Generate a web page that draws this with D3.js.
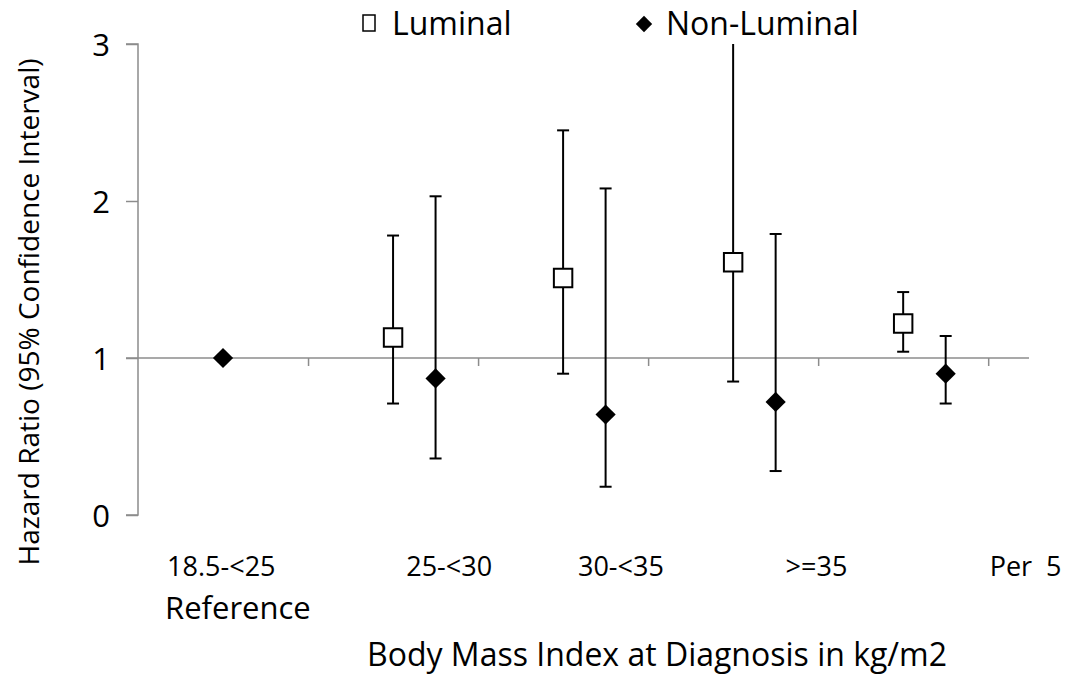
<!DOCTYPE html>
<html>
<head>
<meta charset="utf-8">
<script src="https://cdn.jsdelivr.net/npm/d3@7"></script>
<style>
  body { margin: 0; background: #fff; }
  text { font-family: "Open Sans", "Noto Sans", sans-serif; fill: #000; }
  .axis path, .axis line { stroke: #8c8c8c; stroke-width: 1.5; }
</style>
</head>
<body>
<svg width="1073" height="675"></svg>
<script>
// category labels and where they sit along the x axis (axis units)
var categories = ["18.5-<25", "25-<30", "30-<35", ">=35", "Per  5"];
var labelAt = [0.49, 1.83, 2.84, 3.99, 5.22];

// Luminal: x position, hazard ratio, lower and upper 95% CI
var lumX = [1.5, 2.5, 3.5, 4.5];
var lumHR = [1.13, 1.51, 1.61, 1.22];
var lumLo = [0.71, 0.90, 0.85, 1.04];
var lumHi = [1.78, 2.45, 3.10, 1.42];

// Non-Luminal (first one is the reference, no interval)
var nonX = [0.5, 1.75, 2.75, 3.75, 4.75];
var nonHR = [1.00, 0.87, 0.64, 0.72, 0.90];
var nonLo = [null, 0.36, 0.18, 0.28, 0.71];
var nonHi = [null, 2.03, 2.08, 1.79, 1.14];

var yTicks = [0, 1, 2, 3];

var svg = d3.select("svg");

var x = d3.scaleLinear().domain([0, 5.24]).range([138, 1029]);
var y = d3.scaleLinear().domain([0, 3]).range([515, 44]);

// y axis
svg.append("g")
    .attr("class", "axis")
    .attr("transform", "translate(" + x(0) + ",0)")
    .call(d3.axisLeft(y).tickValues(yTicks).tickFormat(d3.format("d")).tickSize(12).tickPadding(16))
    .call(function(g) { g.select(".domain").attr("d", "M-12," + y(3) + "H0V" + y(0) + "H-12"); })
    .selectAll("text")
      .style("font-size", "31px")
      .attr("dy", "0.36em");

// x axis crossing at hazard ratio 1
svg.append("g")
    .attr("class", "axis")
    .attr("transform", "translate(0," + y(1) + ")")
    .call(d3.axisBottom(x).tickValues([1, 2, 3, 4, 5]).tickFormat("").tickSize(8))
    .call(function(g) { g.select(".domain").attr("d", "M" + (x(0) - 12) + ",0H" + x(5.24)); });

// category labels
svg.append("g").selectAll("text")
  .data(categories)
  .enter().append("text")
    .attr("x", function(d, i) { return x(labelAt[i]); })
    .attr("y", 576)
    .attr("text-anchor", "middle")
    .style("font-size", "27px")
    .style("white-space", "pre")
    .text(function(d) { return d; });

svg.append("text")
    .attr("x", 165)
    .attr("y", 619)
    .style("font-size", "31px")
    .text("Reference");

svg.append("text")
    .attr("x", 657)
    .attr("y", 666)
    .attr("text-anchor", "middle")
    .style("font-size", "32px")
    .text("Body Mass Index at Diagnosis in kg/m2");

svg.append("text")
    .attr("transform", "translate(39," + 312 + ") rotate(-90)")
    .attr("text-anchor", "middle")
    .style("font-size", "28px")
    .text("Hazard Ratio (95% Confidence Interval)");

// error bars
function bars(xs, lo, hi) {
  var g = svg.append("g").attr("stroke", "#000").attr("stroke-width", 2);
  xs.forEach(function(xv, i) {
    if (lo[i] == null) return;
    var top = Math.min(hi[i], 3);
    g.append("line")
      .attr("x1", x(xv)).attr("x2", x(xv))
      .attr("y1", y(lo[i])).attr("y2", y(top));
    g.append("line")
      .attr("x1", x(xv) - 6).attr("x2", x(xv) + 6)
      .attr("y1", y(lo[i])).attr("y2", y(lo[i]));
    if (hi[i] <= 3)
      g.append("line")
        .attr("x1", x(xv) - 6).attr("x2", x(xv) + 6)
        .attr("y1", y(hi[i])).attr("y2", y(hi[i]));
  });
}
bars(lumX, lumLo, lumHi);
bars(nonX, nonLo, nonHi);

var square = d3.symbol().type(d3.symbolSquare).size(340);
var diamond = d3.symbol().type(d3.symbolDiamond2).size(260);

svg.append("g").selectAll("path")
  .data(lumHR)
  .enter().append("path")
    .attr("transform", function(d, i) { return "translate(" + x(lumX[i]) + "," + y(d) + ")"; })
    .attr("d", square)
    .attr("fill", "#fff")
    .attr("stroke", "#000")
    .attr("stroke-width", 2);

svg.append("g").selectAll("path")
  .data(nonHR)
  .enter().append("path")
    .attr("transform", function(d, i) { return "translate(" + x(nonX[i]) + "," + y(d) + ")"; })
    .attr("d", diamond)
    .attr("fill", "#000");

// legend
var legend = svg.append("g");
legend.append("rect")
    .attr("x", 363).attr("y", 15).attr("width", 12).attr("height", 16)
    .attr("fill", "#fff").attr("stroke", "#000").attr("stroke-width", 1.5);
legend.append("text")
    .attr("x", 392).attr("y", 35)
    .style("font-size", "32px")
    .text("Luminal");
legend.append("path")
    .attr("transform", "translate(644,24)")
    .attr("d", d3.symbol().type(d3.symbolDiamond2).size(170))
    .attr("fill", "#000");
legend.append("text")
    .attr("x", 666).attr("y", 35)
    .style("font-size", "32px")
    .text("Non-Luminal");
</script>
</body>
</html>
